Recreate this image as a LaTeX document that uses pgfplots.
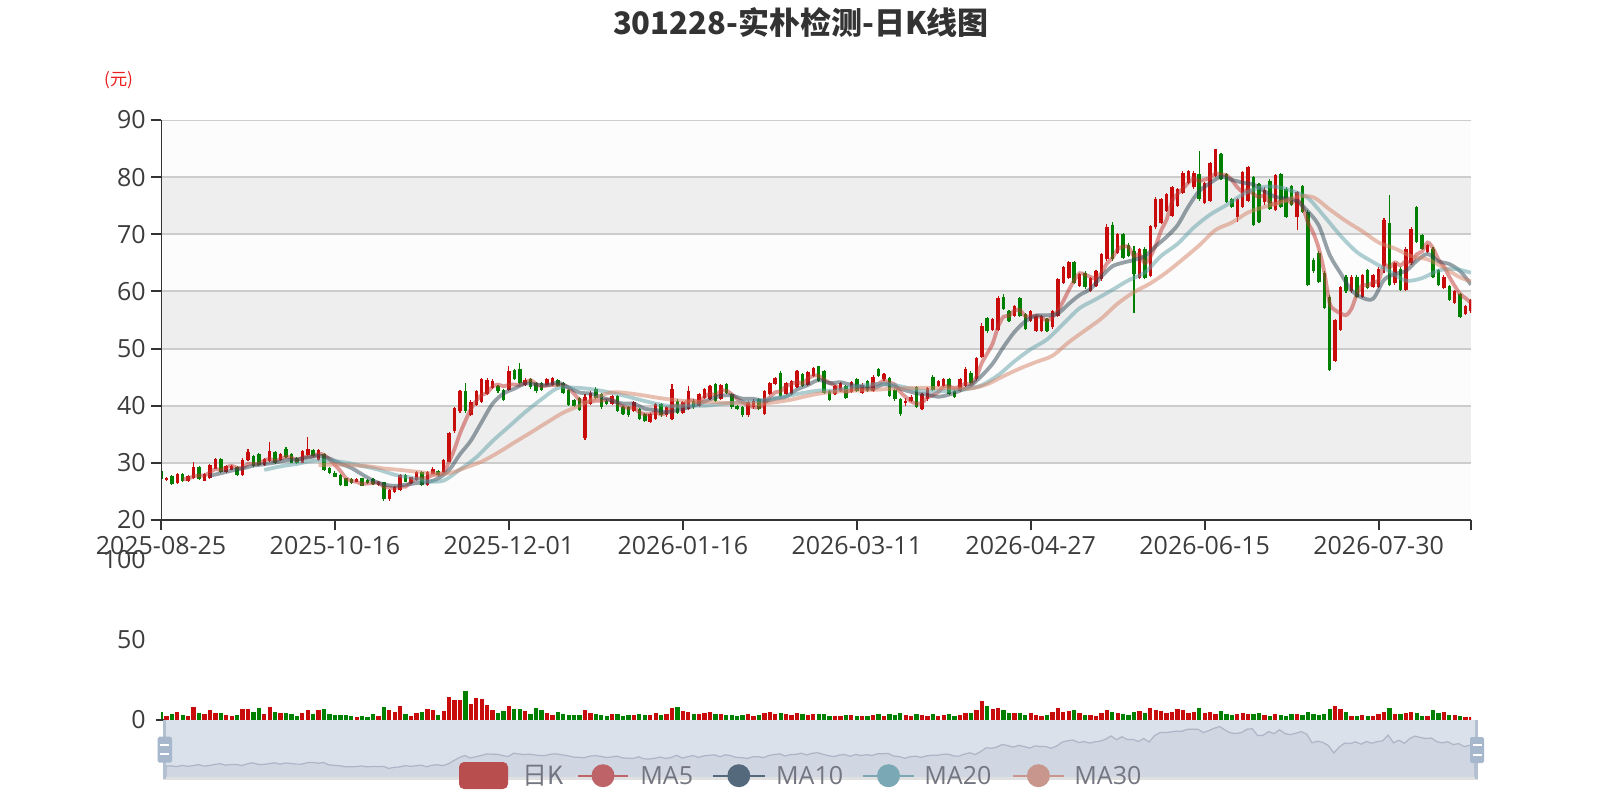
\documentclass[border=0pt]{standalone}
\usepackage{fontspec}
\setmainfont{Open Sans}
\newfontfamily\cjk{Noto Sans CJK SC}
\usepackage{pgfplots}
\usepackage{pgfplotstable}
\pgfplotsset{compat=1.18}
\definecolor{upc}{RGB}{200,12,12}
\definecolor{dnc}{RGB}{0,128,0}
\definecolor{ma5}{HTML}{C23531}
\definecolor{ma10}{HTML}{2F4554}
\definecolor{ma20}{HTML}{61A0A8}
\definecolor{ma30}{HTML}{D48265}
\definecolor{gridc}{RGB}{204,204,204}
\definecolor{bandA}{RGB}{252,252,252}
\definecolor{bandB}{RGB}{238,238,238}
\definecolor{axc}{RGB}{51,51,51}
\definecolor{tickc}{RGB}{60,60,60}
\definecolor{titlec}{RGB}{51,51,51}
\definecolor{yuanc}{RGB}{235,30,30}
\definecolor{slbg}{RGB}{219,225,234}
\definecolor{slsh}{RGB}{208,215,226}
\definecolor{slline}{RGB}{172,182,198}
\definecolor{slborder}{RGB}{178,192,210}
\definecolor{handle}{RGB}{167,183,204}
\definecolor{legtxt}{RGB}{115,118,128}
\definecolor{legK}{RGB}{184,78,78}
\definecolor{leg5}{RGB}{190,100,105}
\definecolor{leg10}{RGB}{85,105,125}
\definecolor{leg20}{RGB}{122,168,180}
\definecolor{leg30}{RGB}{200,150,140}

\pgfplotstableread{
x o h l c v
0 28.5 28.8 27.0 27.2 4.9
1 27.0 27.5 26.9 27.3 2.7
2 27.7 27.9 26.2 26.3 3.5
3 26.4 28.3 26.3 28.1 5.1
4 28.1 28.3 26.6 26.8 2.9
5 26.8 27.9 26.7 27.7 2.7
6 27.3 30.2 27.1 29.3 8.0
7 29.2 29.4 27.0 27.1 4.5
8 26.9 28.2 26.8 28.0 3.9
9 27.3 29.8 27.2 29.6 6.2
10 29.0 30.9 28.9 30.6 4.5
11 30.6 30.8 28.2 28.4 4.5
12 28.4 29.6 28.3 29.4 2.9
13 28.8 29.7 28.7 29.5 2.5
14 29.3 29.5 27.7 27.8 3.1
15 27.8 30.8 27.7 30.5 6.6
16 30.5 32.5 30.3 31.9 6.6
17 31.2 31.4 29.2 29.4 4.9
18 31.6 31.8 29.4 29.6 7.2
19 29.6 30.8 29.5 30.6 3.7
20 30.4 33.6 30.2 32.0 8.4
21 31.9 32.0 29.8 29.9 5.1
22 30.5 31.8 30.4 31.6 4.5
23 32.4 32.7 30.9 31.0 4.3
24 31.6 31.8 29.9 30.0 3.7
25 30.9 31.0 29.8 29.9 2.7
26 30.0 32.3 29.9 32.1 4.3
27 31.3 34.6 31.2 32.5 6.2
28 32.3 32.5 31.0 31.2 3.5
29 30.5 32.5 30.4 32.3 6.0
30 31.6 31.8 28.6 28.8 6.6
31 29.1 29.3 28.0 28.2 3.5
32 28.3 28.5 27.5 27.6 3.1
33 27.8 28.0 26.0 26.1 3.1
34 27.3 27.4 25.9 26.0 3.1
35 27.2 27.3 26.3 26.4 2.5
36 26.7 27.3 26.6 27.2 1.6
37 27.3 27.4 25.9 26.0 2.5
38 27.0 27.1 26.3 26.4 2.1
39 27.2 27.4 26.2 26.3 3.7
40 26.1 26.9 26.0 26.7 2.5
41 26.6 26.7 23.4 23.6 8.4
42 23.6 25.5 23.4 25.3 6.0
43 24.9 26.0 24.8 25.8 5.1
44 25.2 28.0 25.1 27.8 8.8
45 27.8 28.0 26.6 26.7 3.5
46 26.4 27.6 26.3 27.5 2.5
47 27.0 28.6 26.9 28.4 4.5
48 28.4 28.5 26.0 26.1 5.1
49 26.1 28.6 26.0 28.4 6.6
50 28.1 29.2 28.0 29.0 6.0
51 28.6 28.7 27.7 27.8 2.9
52 28.4 30.7 28.3 30.5 5.8
53 30.2 35.4 30.1 35.2 14.4
54 35.5 39.8 35.3 39.6 12.3
55 39.0 42.8 38.8 42.5 12.3
56 42.5 44.0 38.8 39.0 18.3
57 38.4 41.0 38.2 40.7 10.3
58 40.2 42.8 40.0 42.5 13.8
59 40.7 44.9 40.5 44.7 13.0
60 42.0 44.8 41.8 44.5 9.3
61 43.1 44.6 42.9 44.3 6.2
62 43.4 43.6 42.3 42.5 4.3
63 42.8 43.0 40.8 41.0 5.6
64 42.8 47.0 42.6 46.0 8.6
65 46.3 46.5 44.5 44.7 7.0
66 46.5 47.5 43.8 44.0 7.0
67 43.7 44.8 43.5 44.5 5.6
68 44.7 44.9 43.0 43.2 3.9
69 44.0 44.2 42.2 42.5 7.2
70 44.0 44.2 42.6 42.8 6.0
71 43.7 44.9 43.5 44.7 4.1
72 43.7 45.0 43.5 44.8 3.1
73 44.5 44.7 43.2 43.4 4.7
74 44.0 44.2 42.0 42.2 3.7
75 42.8 43.0 40.0 40.2 2.9
76 41.0 41.2 39.7 39.9 2.9
77 41.3 41.5 39.1 39.3 2.9
78 34.3 42.0 34.0 41.6 6.2
79 40.3 42.5 40.1 42.3 4.5
80 42.9 43.2 41.2 41.4 3.5
81 42.0 42.2 39.5 39.7 3.0
82 40.9 41.1 40.1 40.3 2.5
83 40.3 41.9 40.1 41.7 4.0
84 41.7 41.9 38.9 39.1 3.5
85 39.7 39.9 38.4 38.6 2.8
86 39.7 39.9 38.1 38.3 3.2
87 39.1 40.8 38.9 40.6 3.0
88 39.4 39.6 37.5 37.7 3.6
89 38.6 38.8 37.2 37.4 2.9
90 37.2 38.8 37.0 38.6 3.4
91 37.7 40.5 37.5 40.3 4.2
92 40.3 40.5 38.1 38.3 3.0
93 38.3 39.9 38.1 39.7 3.8
94 37.7 43.8 37.5 42.9 7.5
95 40.9 41.1 38.6 38.8 8.0
96 38.8 40.8 38.6 40.6 5.5
97 39.4 43.5 39.2 42.6 5.0
98 40.9 41.1 39.5 39.7 3.5
99 40.0 42.2 39.8 42.0 4.0
100 41.4 43.1 41.2 42.9 4.5
101 41.2 43.7 41.0 43.5 5.0
102 43.8 44.0 40.7 40.9 4.0
103 41.2 43.8 41.0 43.6 3.6
104 43.8 44.0 42.1 42.3 3.0
105 42.0 42.2 39.5 39.7 3.2
106 40.0 40.2 39.2 39.4 2.8
107 39.7 39.9 38.1 38.3 3.0
108 38.3 40.8 38.1 40.6 3.5
109 39.7 41.1 39.5 40.9 2.6
110 41.2 41.4 39.2 39.4 3.0
111 38.6 42.8 38.4 42.6 4.2
112 42.0 44.2 41.8 44.0 5.0
113 43.8 45.1 43.6 44.9 4.0
114 45.8 46.0 41.5 41.7 4.5
115 42.0 44.2 41.8 44.0 3.8
116 42.0 44.5 41.8 44.3 3.0
117 43.3 46.2 43.1 46.0 4.5
118 45.5 45.7 43.2 43.4 3.5
119 43.7 46.1 43.5 45.9 3.2
120 45.2 46.8 45.0 46.6 3.8
121 46.9 47.0 44.1 44.3 3.5
122 46.0 46.2 42.1 42.3 3.8
123 42.6 42.8 40.8 41.0 2.6
124 42.0 43.6 41.8 43.4 2.5
125 42.6 44.1 42.4 43.9 2.8
126 43.5 43.7 41.2 41.4 3.0
127 42.4 44.3 42.2 44.1 3.0
128 44.7 44.9 42.4 42.6 2.6
129 42.3 43.9 42.1 43.7 2.5
130 44.3 44.5 42.4 42.6 2.8
131 42.6 45.3 42.4 45.1 3.0
132 46.4 46.6 45.0 45.2 3.5
133 44.6 45.7 44.4 45.5 2.7
134 44.9 45.1 41.5 41.7 3.8
135 42.8 43.0 40.9 41.1 3.0
136 41.1 41.3 38.2 38.5 4.5
137 40.5 41.3 40.0 40.8 3.0
138 40.8 41.8 40.6 41.6 2.5
139 43.3 43.5 39.6 39.8 4.0
140 39.4 42.2 39.2 42.0 3.0
141 41.1 43.3 40.9 43.1 2.8
142 45.1 45.3 42.6 42.8 3.5
143 43.4 44.5 43.2 44.3 2.7
144 43.4 44.8 43.2 44.6 3.0
145 44.6 44.8 41.8 42.0 3.6
146 42.6 42.8 41.4 41.6 2.8
147 42.6 44.8 42.4 44.6 3.0
148 43.5 46.7 43.3 46.5 4.5
149 45.8 46.0 43.8 44.0 4.2
150 44.6 48.6 44.4 48.4 6.5
151 48.5 54.5 48.3 53.9 12.0
152 55.3 55.5 52.8 53.0 9.0
153 53.3 55.3 53.1 55.1 7.0
154 53.3 59.2 53.1 58.8 7.6
155 59.0 59.5 56.8 57.0 6.2
156 56.6 56.8 54.6 54.8 4.5
157 55.7 57.7 55.5 57.5 4.1
158 58.9 59.1 55.5 55.7 4.1
159 56.0 56.2 53.2 53.4 2.9
160 54.8 56.8 54.6 56.6 4.1
161 53.1 55.9 52.9 55.7 3.1
162 53.1 55.9 52.9 55.7 2.7
163 55.1 55.3 52.9 53.1 3.1
164 53.7 56.8 53.5 56.6 4.9
165 55.7 62.3 55.5 62.1 7.4
166 61.5 64.4 61.3 64.2 4.9
167 62.4 65.4 62.2 65.2 5.6
168 65.2 65.4 61.3 61.5 6.2
169 61.0 63.2 60.8 63.0 4.1
170 63.3 63.5 60.5 60.7 3.1
171 60.1 62.6 59.9 62.4 2.9
172 61.0 63.8 60.8 63.6 2.7
173 62.1 66.7 61.9 66.5 4.1
174 65.6 71.8 65.4 71.2 6.2
175 71.7 72.2 65.4 65.6 5.1
176 66.8 70.2 66.6 70.0 4.5
177 70.0 70.2 65.7 65.9 3.7
178 68.2 68.4 66.0 66.2 3.1
179 67.0 68.0 56.3 63.0 5.1
180 62.4 67.6 62.2 67.4 5.8
181 67.5 67.7 62.1 62.3 4.1
182 62.7 71.7 62.5 71.5 7.4
183 71.2 76.5 71.0 76.1 6.0
184 72.0 76.3 71.8 76.1 5.6
185 74.1 77.2 73.9 77.0 4.5
186 73.2 78.4 73.0 78.2 5.1
187 75.0 78.1 74.8 77.9 6.6
188 77.3 81.0 77.1 80.8 6.0
189 79.0 81.3 78.8 81.1 4.1
190 78.2 81.0 78.0 80.8 5.1
191 80.5 84.6 75.9 76.1 7.4
192 75.5 79.2 75.3 79.0 4.1
193 75.8 82.7 75.6 82.5 4.7
194 80.2 85.0 80.0 84.9 3.7
195 84.1 84.3 79.5 79.7 5.6
196 80.6 80.8 75.4 75.6 3.7
197 76.2 76.4 74.6 74.8 2.9
198 73.0 76.4 72.2 76.2 3.5
199 74.8 81.1 74.6 80.9 4.5
200 75.9 81.9 75.7 81.7 3.7
201 80.0 80.2 71.4 71.6 3.7
202 78.8 79.0 72.0 72.2 4.5
203 75.6 78.3 75.1 77.7 2.9
204 79.4 79.6 74.3 74.5 2.5
205 74.2 80.5 74.0 80.3 3.7
206 80.6 80.8 74.6 74.8 3.1
207 78.0 78.2 72.8 73.0 2.5
208 78.5 78.7 74.9 75.1 3.5
209 73.0 77.6 70.7 77.4 3.7
210 78.5 78.7 73.7 73.9 2.9
211 73.9 74.2 60.9 61.1 4.9
212 65.5 65.8 63.3 63.5 3.7
213 66.7 67.0 61.5 61.7 2.9
214 63.2 63.5 56.9 57.1 3.7
215 59.1 59.3 46.1 46.3 7.0
216 47.8 55.2 47.6 55.0 8.6
217 53.3 61.0 53.1 60.8 6.8
218 62.6 62.8 59.8 60.0 4.9
219 60.0 62.8 59.8 62.6 2.7
220 62.6 62.8 58.9 59.1 2.7
221 59.1 63.1 58.9 62.9 3.1
222 63.7 63.9 60.4 60.6 2.5
223 60.8 63.1 60.6 62.9 2.7
224 60.8 64.2 60.6 64.0 3.7
225 64.5 72.8 63.2 72.5 4.9
226 72.0 76.8 60.9 61.1 7.2
227 61.4 65.1 61.2 64.9 3.5
228 64.0 64.2 60.1 60.3 3.5
229 60.3 67.7 60.1 67.5 4.3
230 64.9 71.2 64.7 71.0 4.7
231 74.8 75.0 68.5 68.7 4.3
232 69.8 70.0 67.3 67.5 2.5
233 66.9 68.3 66.7 68.1 2.7
234 67.5 67.7 62.4 62.6 6.0
235 63.7 63.9 60.9 61.1 4.1
236 60.6 62.8 60.4 62.6 4.9
237 61.0 61.2 58.3 58.5 3.1
238 58.0 60.2 57.8 60.0 3.1
239 59.5 59.7 55.3 55.5 2.5
240 56.0 57.7 55.8 57.5 1.9
241 56.5 58.7 56.3 58.5 2.0
}\kdata

\pgfplotsset{
  kaxis/.style={
    scale only axis, xmin=0, xmax=241,
    axis line style={draw=none},
    tick style={draw=axc, line width=1pt},
    major tick length=5pt, tick align=outside,
    xtick pos=bottom, ytick pos=left,
    ticklabel style={font=\fontsize{12.5}{14}\selectfont, text=tickc},
    yticklabel style={anchor=east, inner sep=0pt, xshift=-2.5pt},
    xticklabel style={anchor=north, inner sep=0pt, yshift=-3pt},
    /pgf/number format/assume math mode=true,
  }
}

\begin{document}
\begin{tikzpicture}
\useasboundingbox (0,0) rectangle (800pt,400pt);

% title and unit
\node[font=\cjk\bfseries\fontsize{15.5}{18}\selectfont, text=titlec] at (400.5pt,388.5pt) {301228-实朴检测-日K线图};
\node[font=\cjk\fontsize{8.6}{10}\selectfont, text=yuanc] at (59.5pt,360pt) {(元)};

% ---------------- main K axis ----------------
\begin{axis}[kaxis, at={(80.5pt,140pt)}, anchor=south west,
  width=655pt, height=200pt, ymin=20, ymax=90,
  ytick={20,30,...,90},
  xtick={0,32,...,224},
  xticklabels={2025-08-25,2025-10-16,2025-12-01,2026-01-16,2026-03-11,2026-04-27,2026-06-15,2026-07-30},
  extra x ticks={241}, extra x tick labels={},
]
\fill[bandA] (axis cs:0,80) rectangle (axis cs:241,90);
\fill[bandB] (axis cs:0,70) rectangle (axis cs:241,80);
\fill[bandA] (axis cs:0,60) rectangle (axis cs:241,70);
\fill[bandB] (axis cs:0,50) rectangle (axis cs:241,60);
\fill[bandA] (axis cs:0,40) rectangle (axis cs:241,50);
\fill[bandB] (axis cs:0,30) rectangle (axis cs:241,40);
\fill[bandA] (axis cs:0,20) rectangle (axis cs:241,30);
\draw[gridc, line width=1pt] (axis cs:0,30) -- (axis cs:241,30);
\draw[gridc, line width=1pt] (axis cs:0,40) -- (axis cs:241,40);
\draw[gridc, line width=1pt] (axis cs:0,50) -- (axis cs:241,50);
\draw[gridc, line width=1pt] (axis cs:0,60) -- (axis cs:241,60);
\draw[gridc, line width=1pt] (axis cs:0,70) -- (axis cs:241,70);
\draw[gridc, line width=1pt] (axis cs:0,80) -- (axis cs:241,80);
\draw[gridc, line width=1pt] (axis cs:0,90) -- (axis cs:241,90);

% wicks
\addplot[upc, line width=0.55pt, quiver={u=0, v=\thisrow{h}-\thisrow{l}},
  restrict expr to domain={\thisrow{c}-\thisrow{o}}{0:1000}] table[x=x, y=l] {\kdata};
\addplot[dnc, line width=0.55pt, quiver={u=0, v=\thisrow{h}-\thisrow{l}},
  restrict expr to domain={\thisrow{c}-\thisrow{o}}{-1000:0}] table[x=x, y=l] {\kdata};
% bodies
\addplot[upc, line width=1.75pt, quiver={u=0, v=\thisrow{c}-\thisrow{o}},
  restrict expr to domain={\thisrow{c}-\thisrow{o}}{0:1000}] table[x=x, y=o] {\kdata};
\addplot[dnc, line width=1.75pt, quiver={u=0, v=\thisrow{c}-\thisrow{o}},
  restrict expr to domain={\thisrow{c}-\thisrow{o}}{-1000:0}] table[x=x, y=o] {\kdata};

% MA5
\addplot[ma5, opacity=0.5, line width=1.9pt, smooth, no markers] coordinates {
(4,27.14)(5,27.24)(6,27.64)(7,27.80)(8,27.78)(9,28.34)(10,28.92)(11,28.74)(12,29.20)(13,29.50)(14,29.14)(15,29.12)(16,29.82)(17,29.82)(18,29.84)(19,30.40)(20,30.70)(21,30.30)(22,30.74)(23,31.02)(24,30.90)(25,30.48)(26,30.92)(27,31.10)(28,31.14)(29,31.60)(30,31.38)(31,30.60)(32,29.62)(33,28.60)(34,27.34)(35,26.86)(36,26.66)(37,26.34)(38,26.40)(39,26.46)(40,26.52)(41,25.80)(42,25.66)(43,25.54)(44,25.84)(45,25.84)(46,26.62)(47,27.24)(48,27.30)(49,27.42)(50,27.88)(51,27.94)(52,28.36)(53,30.18)(54,32.42)(55,35.12)(56,37.36)(57,39.40)(58,40.86)(59,41.88)(60,42.28)(61,43.34)(62,43.70)(63,43.40)(64,43.66)(65,43.70)(66,43.64)(67,44.04)(68,44.48)(69,43.78)(70,43.40)(71,43.54)(72,43.60)(73,43.64)(74,43.58)(75,43.06)(76,42.10)(77,41.00)(78,40.64)(79,40.66)(80,40.90)(81,40.86)(82,41.06)(83,41.08)(84,40.44)(85,39.88)(86,39.60)(87,39.66)(88,38.86)(89,38.52)(90,38.52)(91,38.92)(92,38.46)(93,38.86)(94,39.96)(95,40.00)(96,40.06)(97,40.92)(98,40.92)(99,40.74)(100,41.56)(101,42.14)(102,41.80)(103,42.58)(104,42.64)(105,42.00)(106,41.18)(107,40.66)(108,40.06)(109,39.78)(110,39.72)(111,40.36)(112,41.50)(113,42.36)(114,42.52)(115,43.44)(116,43.78)(117,44.18)(118,43.88)(119,44.72)(120,45.24)(121,45.24)(122,44.50)(123,44.02)(124,43.52)(125,42.98)(126,42.40)(127,42.76)(128,43.08)(129,43.14)(130,42.88)(131,43.62)(132,43.84)(133,44.42)(134,44.02)(135,43.72)(136,42.40)(137,41.52)(138,40.74)(139,40.36)(140,40.54)(141,41.46)(142,41.86)(143,42.40)(144,43.36)(145,43.36)(146,43.06)(147,43.42)(148,43.86)(149,43.74)(150,45.02)(151,47.48)(152,49.16)(153,50.88)(154,53.84)(155,55.56)(156,55.74)(157,56.64)(158,56.76)(159,55.68)(160,55.60)(161,55.78)(162,55.42)(163,54.90)(164,55.54)(165,56.64)(166,58.34)(167,60.24)(168,61.92)(169,63.20)(170,62.92)(171,62.56)(172,62.24)(173,63.24)(174,64.88)(175,65.86)(176,67.38)(177,67.84)(178,67.78)(179,66.14)(180,66.50)(181,64.96)(182,66.08)(183,68.06)(184,70.68)(185,72.60)(186,75.78)(187,77.06)(188,78.00)(189,79.00)(190,79.76)(191,79.34)(192,79.56)(193,79.90)(194,80.66)(195,80.44)(196,80.34)(197,79.50)(198,78.24)(199,77.44)(200,77.84)(201,77.04)(202,76.52)(203,76.82)(204,75.54)(205,75.26)(206,75.90)(207,76.06)(208,75.54)(209,76.12)(210,74.84)(211,72.10)(212,70.20)(213,67.52)(214,63.46)(215,57.94)(216,56.72)(217,56.18)(218,55.84)(219,56.94)(220,59.50)(221,61.08)(222,61.04)(223,61.62)(224,61.90)(225,64.58)(226,64.22)(227,65.08)(228,64.56)(229,65.26)(230,64.96)(231,66.48)(232,67.00)(233,68.56)(234,67.58)(235,65.60)(236,64.38)(237,62.58)(238,60.96)(239,59.54)(240,58.82)(241,58.00)
};
% MA10
\addplot[ma10, opacity=0.5, line width=1.9pt, smooth, no markers] coordinates {
(9,27.74)(11,28.19)(13,28.64)(15,29.02)(17,29.51)(19,29.77)(21,30.06)(23,30.43)(25,30.59)(27,30.92)(29,31.25)(31,30.76)(33,29.87)(35,29.12)(37,27.98)(39,26.90)(41,26.23)(43,25.97)(45,26.18)(47,26.45)(49,26.63)(51,27.28)(53,28.74)(55,31.50)(57,33.88)(59,37.15)(61,40.35)(63,42.13)(65,42.99)(67,43.87)(69,43.72)(71,43.59)(73,44.06)(75,43.23)(77,42.30)(79,42.12)(81,41.48)(83,40.86)(85,40.39)(87,40.36)(89,39.48)(91,39.26)(93,38.86)(95,39.26)(97,39.69)(99,40.35)(101,41.10)(103,41.75)(105,41.78)(107,41.23)(109,41.21)(111,40.77)(113,41.21)(115,41.58)(117,42.84)(119,43.62)(121,44.51)(123,43.95)(125,44.11)(127,43.63)(129,43.33)(131,43.01)(133,43.75)(135,43.30)(137,42.68)(139,42.19)(141,41.93)(143,41.57)(145,41.95)(147,42.64)(149,43.55)(151,45.27)(153,47.37)(155,50.29)(157,52.90)(159,54.76)(161,55.76)(163,55.83)(165,56.12)(167,57.83)(169,59.37)(171,60.45)(173,62.58)(175,64.39)(177,65.04)(179,65.51)(181,66.17)(183,67.92)(185,69.55)(187,71.57)(189,74.84)(191,77.56)(193,78.95)(195,80.10)(197,79.53)(199,79.05)(201,78.69)(203,77.53)(205,76.55)(207,76.29)(209,75.83)(211,74.00)(213,71.53)(215,66.39)(217,63.19)(219,60.20)(221,58.90)(223,58.73)(225,62.04)(227,63.06)(229,63.58)(231,65.35)(233,66.56)(235,65.28)(237,64.79)(239,63.56)(241,61.19)
};
% MA20
\addplot[ma20, opacity=0.5, line width=1.9pt, smooth, no markers] coordinates {
(19,28.76)(22,29.39)(25,29.81)(28,30.38)(31,30.41)(34,30.06)(37,29.45)(40,28.81)(43,27.92)(46,27.42)(49,26.77)(52,26.90)(55,28.84)(58,30.97)(61,33.82)(64,36.35)(67,38.88)(70,41.13)(73,43.10)(76,43.16)(79,42.92)(82,42.43)(85,41.81)(88,41.06)(91,40.37)(94,39.90)(97,40.03)(100,39.99)(103,40.31)(106,40.58)(109,40.78)(112,41.22)(115,41.68)(118,42.22)(121,42.64)(124,42.64)(127,43.24)(130,43.64)(133,43.85)(136,43.42)(139,42.76)(142,42.50)(145,42.63)(148,42.86)(151,43.60)(154,45.33)(157,47.77)(160,49.89)(163,51.60)(166,54.34)(169,57.07)(172,58.64)(175,60.26)(178,61.96)(181,63.31)(184,66.23)(187,68.31)(190,71.18)(193,73.44)(196,75.11)(199,76.95)(202,78.16)(205,78.33)(208,77.63)(211,76.35)(214,73.14)(217,69.74)(220,66.89)(223,65.13)(226,63.53)(229,61.89)(232,62.33)(235,63.66)(238,63.93)(241,63.27)
};
% MA30
\addplot[ma30, opacity=0.5, line width=1.9pt, smooth, no markers] coordinates {
(29,29.59)(32,29.71)(35,29.58)(38,29.42)(41,29.02)(44,28.76)(47,28.45)(50,28.16)(53,28.19)(56,29.16)(59,30.23)(62,31.78)(65,33.56)(68,35.29)(71,37.07)(74,38.79)(77,40.02)(80,41.41)(83,42.35)(86,42.18)(89,41.77)(92,41.30)(95,40.96)(98,40.67)(101,40.61)(104,40.49)(107,40.43)(110,40.28)(113,40.61)(116,41.07)(119,41.73)(122,42.26)(125,42.49)(128,42.66)(131,42.76)(134,42.95)(137,43.05)(140,43.13)(143,43.09)(146,43.03)(149,43.02)(152,43.76)(155,45.18)(158,46.51)(161,47.65)(164,48.75)(167,51.12)(170,53.18)(173,55.26)(176,57.88)(179,59.88)(182,61.41)(185,63.35)(188,65.65)(191,68.06)(194,70.76)(197,72.05)(200,73.83)(203,74.80)(206,75.56)(209,76.57)(212,76.48)(215,74.35)(218,72.31)(221,70.53)(224,68.57)(227,67.51)(230,66.18)(233,65.61)(236,64.16)(239,62.45)(241,61.81)
};
\draw[axc, line width=1pt] (axis cs:0,20) -- (axis cs:241,20);
\draw[axc, line width=1pt] (axis cs:0,20) -- (axis cs:0,90);
\end{axis}

% ---------------- volume axis ----------------
\begin{axis}[kaxis, at={(80.5pt,40pt)}, anchor=south west,
  width=655pt, height=80pt, ymin=0, ymax=100,
  ytick={0,50,100}, xtick=\empty, ytick style={draw=none},
]
\addplot[upc, line width=2.15pt, quiver={u=0, v=\thisrow{v}},
  restrict expr to domain={\thisrow{c}-\thisrow{o}}{0:1000}] table[x=x, y expr=0] {\kdata};
\addplot[dnc, line width=2.15pt, quiver={u=0, v=\thisrow{v}},
  restrict expr to domain={\thisrow{c}-\thisrow{o}}{-1000:0}] table[x=x, y expr=0] {\kdata};
\end{axis}
\draw[axc, line width=1pt] (78pt,40pt) -- (82pt,40pt);

% ---------------- data zoom slider ----------------
\fill[slbg] (81.5pt,10.4pt) rectangle (739pt,40pt);
\begin{axis}[at={(83pt,10.4pt)}, anchor=south west, scale only axis,
  width=654.5pt, height=29.6pt, xmin=0, xmax=241, ymin=7.9, ymax=94.5, hide axis]
\addplot[fill=slsh, draw=slline, line width=0.6pt] table[x=x, y=c] {\kdata} \closedcycle;
\end{axis}
\fill[black!12] (81.5pt,10pt) rectangle (739pt,11.4pt);
\fill[slborder] (81.5pt,10.4pt) rectangle (83pt,40pt);
\fill[slborder] (737.5pt,10.4pt) rectangle (739pt,40pt);
\fill[handle, rounded corners=0.8pt] (78.85pt,18.65pt) rectangle (86pt,31.65pt);
\fill[handle, rounded corners=0.8pt] (735pt,18.5pt) rectangle (742pt,31.5pt);
\draw[white, line width=1pt] (80pt,27.5pt) -- (84.6pt,27.5pt);
\draw[white, line width=1pt] (80pt,22.85pt) -- (84.6pt,22.85pt);
\draw[white, line width=1pt] (736.4pt,27.3pt) -- (740.8pt,27.3pt);
\draw[white, line width=1pt] (736.4pt,22.7pt) -- (740.8pt,22.7pt);

% ---------------- legend ----------------
\fill[legK, rounded corners=2.5pt] (229.5pt,5.5pt) rectangle (254pt,19pt);
\node[anchor=base west, inner sep=0pt, font=\cjk\fontsize{12.5}{14}\selectfont, text=legtxt] at (260.85pt,8pt) {日K};
\draw[leg5, line width=1pt] (289pt,12.15pt) -- (314pt,12.15pt);
\fill[leg5] (301.5pt,12.15pt) circle (5.75pt);
\node[anchor=base west, inner sep=0pt, font=\fontsize{12.5}{14}\selectfont, text=legtxt] at (320pt,8pt) {MA5};
\draw[leg10, line width=1pt] (356.5pt,12.15pt) -- (382.25pt,12.15pt);
\fill[leg10] (369.4pt,12.15pt) circle (5.75pt);
\node[anchor=base west, inner sep=0pt, font=\fontsize{12.5}{14}\selectfont, text=legtxt] at (387.85pt,8pt) {MA10};
\draw[leg20, line width=1pt] (431.5pt,12.15pt) -- (457pt,12.15pt);
\fill[leg20] (444.25pt,12.15pt) circle (5.75pt);
\node[anchor=base west, inner sep=0pt, font=\fontsize{12.5}{14}\selectfont, text=legtxt] at (462pt,8pt) {MA20};
\draw[leg30, line width=1pt] (506.4pt,12.15pt) -- (532pt,12.15pt);
\fill[leg30] (519.2pt,12.15pt) circle (5.75pt);
\node[anchor=base west, inner sep=0pt, font=\fontsize{12.5}{14}\selectfont, text=legtxt] at (537pt,8pt) {MA30};
\end{tikzpicture}
\end{document}
